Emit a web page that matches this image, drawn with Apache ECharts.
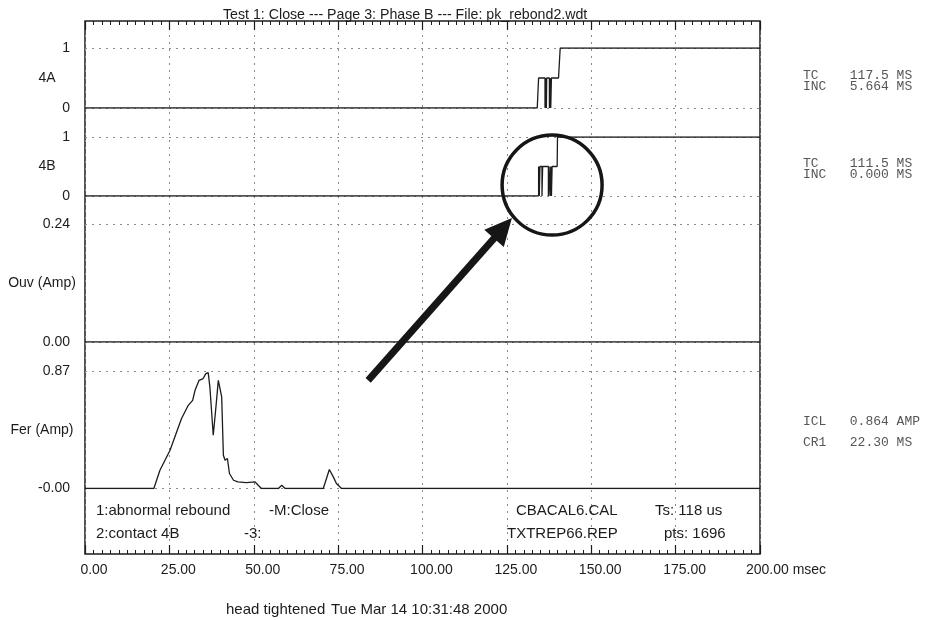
<!DOCTYPE html>
<html>
<head>
<meta charset="utf-8">
<title>Test 1: Close - Phase B</title>
<script src="https://cdn.jsdelivr.net/npm/echarts@6/dist/echarts.min.js"></script>
<style>
  html, body { margin: 0; padding: 0; background: #fff; }
  #chart { width: 927px; height: 620px; }
</style>
</head>
<body>
<div id="chart"></div>
<script>
// time axis, msec
const timeMin = 0
const timeMax = 200
const timeStep = 25

// channel names and full-scale values (top label of each strip)
const channelNames = ['4A', '4B', 'Ouv (Amp)', 'Fer (Amp)']
const channelMax = [1, 1, 0.24, 0.87]

// contact 4A: [msec, state]
const contact4A = [
  [0, 0], [134.0, 0], [134.4, 0.5],
  [136.3, 0.5], [136.3, 0], [136.5, 0], [136.5, 0.5], [136.7, 0.5], [136.7, 0], [136.8, 0], [136.8, 0.5],
  [137.6, 0.5], [137.6, 0], [137.8, 0], [137.8, 0.5], [138.0, 0.5], [138.0, 0], [138.2, 0], [138.2, 0.5],
  [140.3, 0.5], [140.8, 1], [200, 1]
]

// contact 4B: [msec, state]
const contact4B = [
  [0, 0], [134.4, 0], [134.4, 0.5], [134.6, 0.5], [134.6, 0], [134.8, 0], [134.8, 0.5],
  [135.4, 0.5], [135.4, 0], [135.6, 0], [135.6, 0.5],
  [137.3, 0.5], [137.3, 0], [137.5, 0], [137.5, 0.5],
  [137.8, 0.5], [137.8, 0], [138.0, 0], [138.0, 0.5], [138.2, 0.5], [138.2, 0], [138.4, 0], [138.4, 0.5],
  [139.9, 0.5], [140.0, 1], [200, 1]
]

// opening coil current, Amp
const ouvCurrent = [[0, 0], [200, 0]]

// closing coil current, Amp
const ferCurrent = [
  [0, 0], [20.4, 0], [22.2, 0.135], [25.2, 0.283], [28.6, 0.518], [30.6, 0.616],
  [31.9, 0.653], [32.6, 0.727], [33.8, 0.801], [35.0, 0.814], [35.8, 0.851], [36.5, 0.858],
  [37.0, 0.752], [38.0, 0.394], [38.8, 0.604], [39.5, 0.801], [40.0, 0.801], [40.5, 0.678],
  [41.0, 0.246], [41.5, 0.209], [42.2, 0.222], [42.8, 0.111], [44.0, 0.061], [45.3, 0.049],
  [47.8, 0.044], [50.4, 0.049], [51.3, 0.024], [52.3, 0], [57.3, 0], [58.3, 0.024],
  [59.3, 0], [70.6, 0], [72.4, 0.141], [73.6, 0.084], [74.5, 0.037], [76.0, 0], [200, 0]
]

const channelData = [contact4A, contact4B, ouvCurrent, ferCurrent]

// annotation anchors: [msec, value] in the strip given by grid index
const circleAnchor = { grid: 1, at: [138.4, 0.186] }
const arrowTip = { grid: 2, at: [126.5, 0.252] }
const arrowTail = { grid: 3, at: [83.9, 0.801] }

const ink = '#1c1c1c'
const dotted = '#8a8a8a'
const sans = '"Liberation Sans", Arial, sans-serif'
const mono = '"Liberation Mono", "Courier New", monospace'

const stripTop = [48, 137, 224, 371]
const stripHeight = [60, 59, 118, 117.5]
const nameGaps = [38, 38, 43, 43]
const plotLeft = 85
const plotWidth = 675

const chart = echarts.init(document.getElementById('chart'))

const grids = stripTop.map((t, i) => ({
  left: plotLeft, width: plotWidth, top: t, height: stripHeight[i], show: false,
  containLabel: false, outerBoundsMode: 'none'
}))
// outer frame with the time ticks
grids.push({
  left: plotLeft, width: plotWidth, top: 21, height: 533,
  show: true, borderColor: ink, borderWidth: 1.5, backgroundColor: 'transparent',
  containLabel: false, outerBoundsMode: 'none'
})

const xAxes = stripTop.map((t, i) => ({
  gridIndex: i, type: 'value', min: timeMin, max: timeMax, show: false
}))
xAxes.push({
  gridIndex: 4, type: 'value', min: timeMin, max: timeMax, interval: timeStep,
  position: 'bottom',
  axisLine: { show: false },
  axisTick: { inside: true, length: 9, lineStyle: { color: ink, width: 1.2 } },
  minorTick: { show: true, splitNumber: 10, length: 4, lineStyle: { color: ink, width: 1 } },
  splitLine: { show: true, lineStyle: { color: dotted, width: 1, type: [2, 5] } },
  axisLabel: {
    margin: 9,
    formatter: v => v === timeMax ? '{e|' + v.toFixed(2) + ' msec}' : '{t|' + v.toFixed(2) + '}',
    rich: {
      t: { fontFamily: sans, fontSize: 14, color: ink, padding: [0, 0, 0, 18] },
      e: { fontFamily: sans, fontSize: 14, color: ink, padding: [0, 0, 0, 52] }
    }
  }
})
xAxes.push({
  gridIndex: 4, type: 'value', min: timeMin, max: timeMax, interval: timeStep,
  position: 'top',
  axisLine: { show: false },
  axisLabel: { show: false },
  axisTick: { inside: true, length: 9, lineStyle: { color: ink, width: 1.2 } },
  minorTick: { show: true, splitNumber: 10, length: 4, lineStyle: { color: ink, width: 1 } },
  splitLine: { show: false }
})

const yAxes = channelMax.map((m, i) => ({
  gridIndex: i, type: 'value', min: 0, max: m, interval: m,
  name: channelNames[i], nameLocation: 'middle', nameRotate: 0, nameGap: nameGaps[i],
  nameMoveOverlap: false,
  nameTextStyle: { fontFamily: sans, fontSize: 14, color: ink, align: 'center' },
  axisLine: { show: false },
  axisTick: { show: false },
  splitLine: { show: true, lineStyle: { color: dotted, width: 1, type: [2, 5] } },
  axisLabel: {
    margin: 15, fontFamily: sans, fontSize: 14, color: ink,
    formatter: v => {
      if (m === 1) return String(v)
      if (i === 3 && v === 0) return '-0.00'
      return v.toFixed(2)
    }
  }
}))
yAxes.push({ gridIndex: 4, type: 'value', min: 0, max: 1, show: false })

const series = channelData.map((d, i) => ({
  type: 'line',
  xAxisIndex: i,
  yAxisIndex: i,
  data: d,
  symbol: 'none',
  lineStyle: { color: ink, width: 1.3 },
  z: 5
}))

const notes = [
  ['1:abnormal rebound', 96, 511], ['2:contact 4B', 96, 534],
  ['-M:Close', 269, 511], ['-3:', 244, 534],
  ['CBACAL6.CAL', 516, 511], ['TXTREP66.REP', 507, 534],
  ['Ts: 118 us', 655, 511], ['pts: 1696', 664, 534],
  ['head tightened', 226, 610], ['Tue Mar 14 10:31:48 2000', 331, 610]
]
const readouts = [
  ['TC    117.5 MS', 76], ['INC   5.664 MS', 87],
  ['TC    111.5 MS', 164], ['INC   0.000 MS', 175],
  ['ICL   0.864 AMP', 422], ['CR1   22.30 MS', 443]
]

chart.setOption({
  animation: false,
  backgroundColor: '#fff',
  title: {
    text: 'Test 1: Close --- Page 3: Phase B --- File: pk_rebond2.wdt',
    left: 223, top: 8, padding: 0,
    textStyle: { fontFamily: sans, fontSize: 14.2, fontWeight: 'normal', color: ink }
  },
  grid: grids,
  xAxis: xAxes,
  yAxis: yAxes,
  series: series
})

const px = a => chart.convertToPixel({ gridIndex: a.grid }, a.at)
const c = px(circleAnchor)
const tip = px(arrowTip)
const tail = px(arrowTail)
const dx = tip[0] - tail[0]
const dy = tip[1] - tail[1]
const len = Math.sqrt(dx * dx + dy * dy)
const ux = dx / len
const uy = dy / len
const headLen = 27
const headHalf = 13
const base = [tip[0] - ux * headLen, tip[1] - uy * headLen]

const graphics = notes.map(n => ({
  type: 'text', x: n[1], y: n[2], z: 10,
  style: { text: n[0], fill: ink, font: '15px ' + sans, verticalAlign: 'middle' }
}))
readouts.forEach(r => graphics.push({
  type: 'text', x: 803, y: r[1], z: 10,
  style: { text: r[0], fill: '#555', font: '13px ' + mono, verticalAlign: 'middle' }
}))
graphics.push({
  type: 'circle', z: 20,
  shape: { cx: c[0], cy: c[1], r: 50 },
  style: { fill: 'none', stroke: '#161616', lineWidth: 3.5 }
})
graphics.push({
  type: 'line', z: 20,
  shape: { x1: tail[0], y1: tail[1], x2: base[0] + ux * 2, y2: base[1] + uy * 2 },
  style: { stroke: '#161616', lineWidth: 7 }
})
graphics.push({
  type: 'polygon', z: 20,
  shape: {
    points: [
      tip,
      [base[0] - uy * headHalf, base[1] + ux * headHalf],
      [base[0] + uy * headHalf, base[1] - ux * headHalf]
    ]
  },
  style: { fill: '#161616' }
})

chart.setOption({ graphic: graphics })
</script>
</body>
</html>
